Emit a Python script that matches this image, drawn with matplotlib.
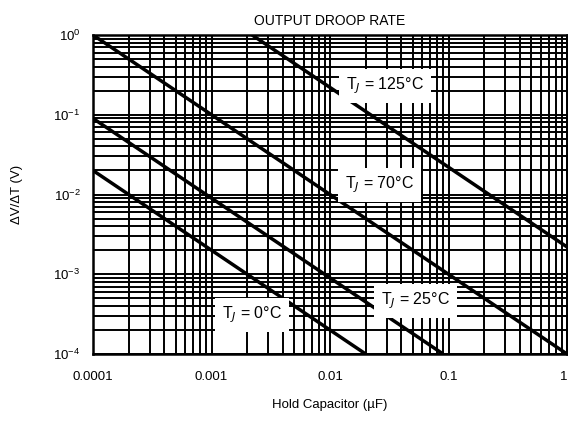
import matplotlib
matplotlib.use('Agg')
import matplotlib.pyplot as plt
from matplotlib.ticker import LogLocator, FixedLocator, FixedFormatter, NullFormatter

plt.rcParams['font.family'] = ['Liberation Sans', 'DejaVu Sans']

# end points of each droop line (uF, V/s)
cap_0c = [0.0001, 0.02]
droop_0c = [0.02, 0.0001]
cap_25c = [0.0001, 0.09]
droop_25c = [0.09, 0.0001]
cap_70c = [0.0001, 1.0]
droop_70c = [1.0, 0.0001]
cap_125c = [0.0022, 1.0]
droop_125c = [1.0, 0.0022]

labels = [r'T$_J$ = 0°C', r'T$_J$ = 25°C', r'T$_J$ = 70°C', r'T$_J$ = 125°C']
x_ticks = [0.0001, 0.001, 0.01, 0.1, 1]
x_tick_labels = ['0.0001', '0.001', '0.01', '0.1', '1']

fig = plt.figure(figsize=(5.68, 4.22), dpi=100)
ax = fig.add_axes([93 / 568, 68 / 422, 474 / 568, 319 / 422])
ax.set_xscale('log')
ax.set_yscale('log')
ax.set_xlim(0.0001, 1)
ax.set_ylim(0.0001, 1)

# dense black log grid, major and minor
ax.xaxis.set_major_locator(FixedLocator(x_ticks))
ax.xaxis.set_major_formatter(FixedFormatter(x_tick_labels))
ax.xaxis.set_minor_locator(LogLocator(base=10, subs=range(2, 10)))
ax.xaxis.set_minor_formatter(NullFormatter())
ax.yaxis.set_major_locator(LogLocator(base=10, numticks=10))
ax.yaxis.set_minor_locator(LogLocator(base=10, subs=range(2, 10), numticks=10))
ax.yaxis.set_minor_formatter(NullFormatter())
ax.grid(True, which='both', color='black', linewidth=1.4)
ax.set_axisbelow(True)
ax.tick_params(which='both', length=0, labelsize=9.5)
ax.tick_params(axis='x', pad=12)
ax.tick_params(axis='y', pad=9)
for s in ax.spines.values():
    s.set_linewidth(1.8)

lw = 2.5
ax.plot(cap_0c, droop_0c, color='black', lw=lw, solid_capstyle='butt')
ax.plot(cap_25c, droop_25c, color='black', lw=lw, solid_capstyle='butt')
ax.plot(cap_70c, droop_70c, color='black', lw=lw, solid_capstyle='butt')
ax.plot(cap_125c, droop_125c, color='black', lw=lw, solid_capstyle='butt')

box = dict(facecolor='white', edgecolor='none', pad=5)
ax.text(0.335, 0.122, labels[0], transform=ax.transAxes, ha='center', va='center', fontsize=11.5, bbox=box)
ax.text(0.681, 0.166, labels[1], transform=ax.transAxes, ha='center', va='center', fontsize=11.5, bbox=box)
ax.text(0.605, 0.53, labels[2], transform=ax.transAxes, ha='center', va='center', fontsize=11.5, bbox=box)
ax.text(0.616, 0.84, labels[3], transform=ax.transAxes, ha='center', va='center', fontsize=11.5, bbox=box)

ax.set_title('OUTPUT DROOP RATE', fontsize=10, pad=7)
ax.set_xlabel('Hold Capacitor (µF)', fontsize=9.5, labelpad=12)
ax.set_ylabel('ΔV/ΔT (V)', fontsize=9.5, labelpad=22)

# keep the last x label inside the figure
ax.get_xticklabels()[-1].set_horizontalalignment('right')

fig.savefig('out.png', dpi=100)
